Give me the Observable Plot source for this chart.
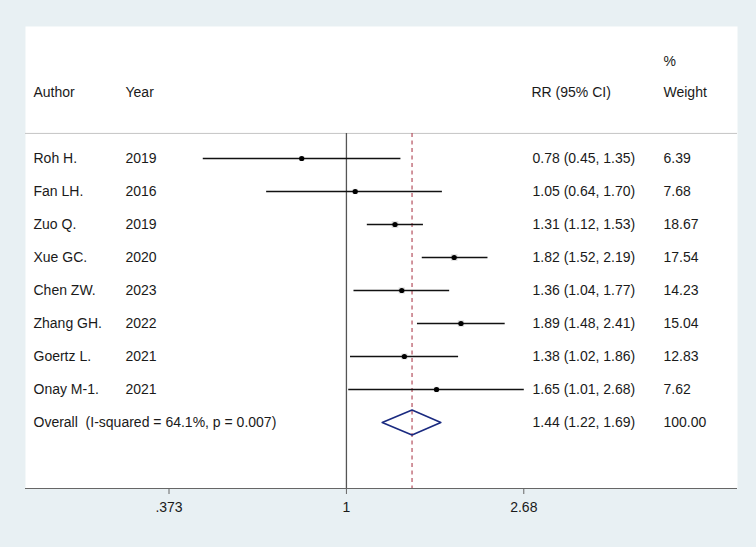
<!DOCTYPE html>
<html>
<head>
<meta charset="utf-8">
<script src="https://cdn.jsdelivr.net/npm/d3@7"></script>
<script src="https://cdn.jsdelivr.net/npm/@observablehq/plot@0.6"></script>
<style>
  html, body { margin: 0; padding: 0; background: #e8f0f3; }
  #chart svg { display: block; background: transparent; }
</style>
</head>
<body>
<div id="chart"></div>
<script>
const authors = ["Roh H.", "Fan LH.", "Zuo Q.", "Xue GC.", "Chen ZW.", "Zhang GH.", "Goertz L.", "Onay M-1."];
const years = [2019, 2016, 2019, 2020, 2023, 2022, 2021, 2021];
const rr = [0.78, 1.05, 1.31, 1.82, 1.36, 1.89, 1.38, 1.65];
const lower = [0.45, 0.64, 1.12, 1.52, 1.04, 1.48, 1.02, 1.01];
const upper = [1.35, 1.70, 1.53, 2.19, 1.77, 2.41, 1.86, 2.68];
const weights = [6.39, 7.68, 18.67, 17.54, 14.23, 15.04, 12.83, 7.62];
const overall = {rr: 1.44, lower: 1.22, upper: 1.69, weight: 100.00, label: "Overall\u00a0\u00a0(I-squared = 64.1%, p = 0.007)"};
const xTicks = [0.373, 1, 2.68];
const xTickLabels = [".373", "1", "2.68"];

const studies = authors.map((a, i) => ({
  row: i, author: a, year: String(years[i]), rr: rr[i], lo: lower[i], hi: upper[i], w: weights[i],
  ci: `${rr[i].toFixed(2)} (${lower[i].toFixed(2)}, ${upper[i].toFixed(2)})`,
  wt: weights[i].toFixed(2)
}));
const oRow = studies.length;
const dh = 0.38;
const diamond = [
  {x: overall.lower, y: oRow},
  {x: overall.rr, y: oRow - dh},
  {x: overall.upper, y: oRow},
  {x: overall.rr, y: oRow + dh},
  {x: overall.lower, y: oRow}
];
const headerRow = -2;
const pctRow = -2.95;
const sepRow = -0.76;
const bottomRow = 10;

const font = "'Liberation Sans', Arial, Helvetica, sans-serif";
const fs = 14;
const txt = "#1a1a1a";
const fmtTick = (d) => xTickLabels[xTicks.indexOf(d)] ?? "";

const chart = Plot.plot({
  width: 756,
  height: 547,
  marginLeft: 25,
  marginRight: 19,
  marginTop: 26,
  marginBottom: 59,
  style: {fontFamily: font, fontSize: fs + "px", background: "transparent", color: txt},
  x: {type: "log", domain: [0.168, 8.79], label: null},
  y: {domain: [-4, 10], reverse: true, axis: null},
  marks: [
    Plot.frame({fill: "white", stroke: null}),
    Plot.axisX({ticks: xTicks, tickFormat: fmtTick, tickSize: 6, tickPadding: 8, stroke: "#666", fill: txt, fontSize: fs, label: null}),
    Plot.ruleY([bottomRow], {stroke: "#666", strokeWidth: 1}),
    Plot.ruleY([sepRow], {stroke: "#c4c4c4", strokeWidth: 1}),
    Plot.ruleX([1], {y1: sepRow, y2: bottomRow, stroke: "#555", strokeWidth: 1.3}),
    Plot.ruleX([overall.rr], {y1: sepRow, y2: bottomRow, stroke: "#b5505e", strokeWidth: 1.2, strokeDasharray: "4,3.5"}),
    Plot.dot(studies, {x: "rr", y: "row", symbol: "square", r: (d) => Math.sqrt(d.w) * 1.0, fill: "#dcdcdc", stroke: null}),
    Plot.link(studies, {x1: "lo", x2: "hi", y1: "row", y2: "row", stroke: "#111", strokeWidth: 1.6}),
    Plot.dot(studies, {x: "rr", y: "row", r: 2.6, fill: "#000", stroke: null}),
    Plot.line(diamond, {x: "x", y: "y", stroke: "#1a2a80", strokeWidth: 1.6}),
    // header
    Plot.text(["Author"], {frameAnchor: "left", y: () => headerRow, dx: 8, textAnchor: "start", fill: txt}),
    Plot.text(["Year"], {frameAnchor: "left", y: () => headerRow, dx: 100, textAnchor: "start", fill: txt}),
    Plot.text(["RR (95% CI)"], {frameAnchor: "left", y: () => headerRow, dx: 506, textAnchor: "start", fill: txt}),
    Plot.text(["%"], {frameAnchor: "left", y: () => pctRow, dx: 638, textAnchor: "start", fill: txt}),
    Plot.text(["Weight"], {frameAnchor: "left", y: () => headerRow, dx: 638, textAnchor: "start", fill: txt}),
    // rows
    Plot.text(studies, {frameAnchor: "left", y: "row", text: "author", dx: 8, textAnchor: "start", fill: txt}),
    Plot.text(studies, {frameAnchor: "left", y: "row", text: "year", dx: 100, textAnchor: "start", fill: txt}),
    Plot.text(studies, {frameAnchor: "left", y: "row", text: "ci", dx: 507, textAnchor: "start", fill: txt}),
    Plot.text(studies, {frameAnchor: "left", y: "row", text: "wt", dx: 638, textAnchor: "start", fill: txt}),
    Plot.text([overall], {frameAnchor: "left", y: () => oRow, text: "label", dx: 8, textAnchor: "start", fill: txt}),
    Plot.text([overall], {frameAnchor: "left", y: () => oRow, text: (d) => `${d.rr.toFixed(2)} (${d.lower.toFixed(2)}, ${d.upper.toFixed(2)})`, dx: 507, textAnchor: "start", fill: txt}),
    Plot.text([overall], {frameAnchor: "left", y: () => oRow, text: (d) => d.weight.toFixed(2), dx: 638, textAnchor: "start", fill: txt})
  ]
});
document.getElementById("chart").appendChild(chart);
</script>
</body>
</html>
